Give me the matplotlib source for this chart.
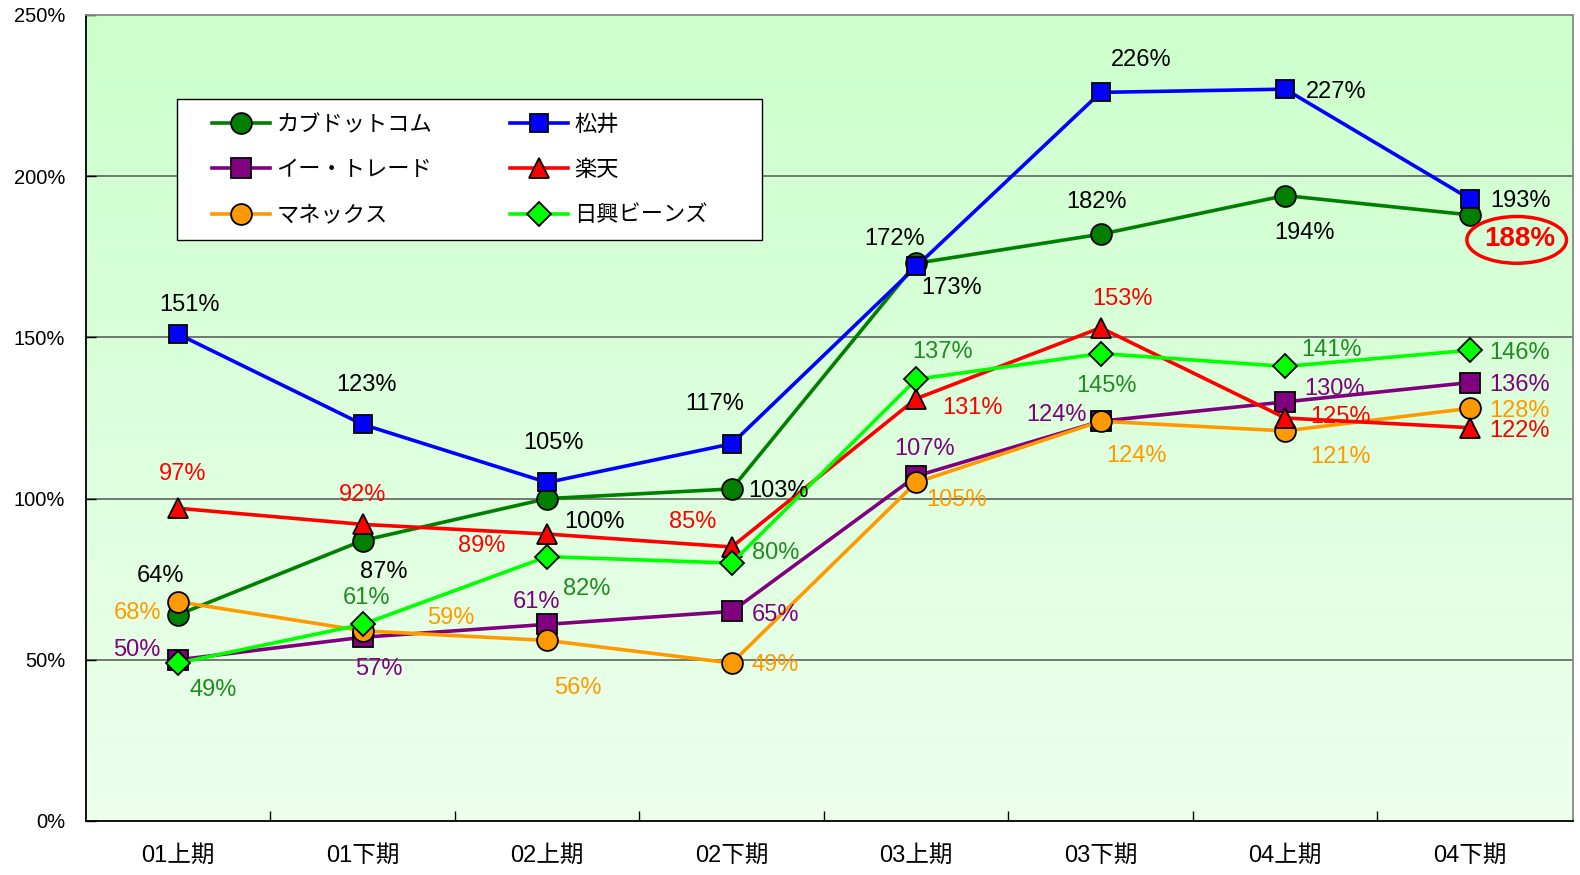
import numpy as np
import matplotlib
matplotlib.use("Agg")
import matplotlib.pyplot as plt
from matplotlib.patches import Ellipse, Rectangle
from matplotlib.transforms import ScaledTranslation

plt.rcParams['font.family'] = ['Liberation Sans', 'Noto Sans CJK JP', 'DejaVu Sans']

# periods
periods = ['01上期', '01下期', '02上期', '02下期', '03上期', '03下期', '04上期', '04下期']

# values in %
kabu = [64, 87, 100, 103, 173, 182, 194, 188]
etrade = [50, 57, 61, 65, 107, 124, 130, 136]
monex = [68, 59, 56, 49, 105, 124, 121, 128]
matsui = [151, 123, 105, 117, 172, 226, 227, 193]
rakuten = [97, 92, 89, 85, 131, 153, 125, 122]
nikko = [49, 61, 82, 80, 137, 145, 141, 146]

names = ['カブドットコム', 'イー・トレード', 'マネックス', '松井', '楽天', '日興ビーンズ']
series = [kabu, etrade, monex, matsui, rakuten, nikko]

# styles: line colour, marker, marker size, label colour
styles = [
    ('#007F00', 'o', 15, 'black'),
    ('#800080', 's', 14, '#800080'),
    ('#FF9900', 'o', 15, '#FF9900'),
    ('#0000FF', 's', 13, 'black'),
    ('#FF0000', '^', 15, '#FF0000'),
    ('#00FF00', 'D', 12, '#1E8C1E'),
]

# label offsets in pixels (dx, dy; dy positive = down)
offsets = [
    [(-18, -39), (21, 31), (47, 23), (47, 2), (35, 25), (-4, -32), (19, 37), None],
    [(-41, -10), (16, 32), (-11, -22), (44, 4), (8, -27), (-44, -6), (49, -13), (50, 2)],
    [(-41, 11), (88, -13), (31, 48), (43, 2), (40, 18), (36, 35), (55, 26), (50, 3)],
    [(11, -29), (4, -39), (6, -39), (-17, -40), (-22, -27), (40, -32), (51, 3), (51, 2)],
    [(4, -34), (0, -29), (-66, 12), (-39, -25), (56, 9), (22, -29), (55, -1), (50, 3)],
    [(35, 27), (4, -26), (39, 32), (44, -10), (26, -27), (6, 32), (46, -16), (50, 3)],
]

fig = plt.figure(figsize=(15.8, 8.75), dpi=100)
ax = fig.add_axes([86 / 1580, 1 - 821 / 875, 1487 / 1580, 806 / 875])

x = np.arange(len(periods))
ax.set_xlim(-0.5, 7.56)
ax.set_ylim(0, 250)

# gradient background
grad = np.linspace(0, 1, 256).reshape(-1, 1)
top = np.array([204, 255, 204]) / 255
bot = np.array([236, 255, 236]) / 255
img = top * (1 - grad[..., None]) + bot * grad[..., None]
img = np.repeat(img, 2, axis=1)
ax.imshow(img, extent=[-0.5, 7.56, 0, 250], aspect='auto', zorder=0, origin='upper')

for yv in [50, 100, 150, 200]:
    ax.axhline(yv, color='#555555', lw=1.1, zorder=1)

for i, (vals, name, st) in enumerate(zip(series, names, styles)):
    col, mk, ms, lcol = st
    ax.plot(x, vals, color=col, lw=2.6, marker=mk, markersize=ms,
            markerfacecolor=col, markeredgecolor='black', markeredgewidth=1.3,
            label=name, zorder=3 + i)
    for j, v in enumerate(vals):
        off = offsets[i][j]
        if off is None:
            continue
        ax.annotate(f'{v}%', (x[j], v), xytext=(off[0], -off[1]), textcoords='offset pixels',
                    ha='center', va='center', fontsize=17, color=lcol, zorder=20)

# highlighted last value
ax.annotate(f'{kabu[-1]}%', (x[-1], kabu[-1]), xytext=(50, -24), textcoords='offset pixels',
            ha='center', va='center', fontsize=20, fontweight='bold', color='#FF0000', zorder=20)
ell = Ellipse((x[-1], kabu[-1]), 0.54, 14.5, fill=False, edgecolor='#FF0000', lw=2.5,
              transform=ax.transData + ScaledTranslation(0.47, -0.25, fig.dpi_scale_trans),
              zorder=20, clip_on=False)
ax.add_patch(ell)

ax.set_yticks([0, 50, 100, 150, 200, 250])
ax.set_yticklabels([f'{t}%' for t in [0, 50, 100, 150, 200, 250]], fontsize=14.5)
ax.tick_params(axis='y', direction='in', length=7, width=1, pad=15)
ax.set_xticks(x[:-1] + 0.5)
ax.set_xticklabels([])
ax.set_xticks(x, minor=True)
ax.set_xticklabels(periods, minor=True, fontsize=17)
ax.tick_params(axis='x', which='major', direction='in', length=7, width=1)
ax.tick_params(axis='x', which='minor', length=0, pad=17)

for s in ['left', 'bottom']:
    ax.spines[s].set_color('black')
    ax.spines[s].set_linewidth(1.3)
for s in ['top', 'right']:
    ax.spines[s].set_color('#888888')
    ax.spines[s].set_linewidth(1.3)

# legend box drawn separately so the padding can differ left/right and top/bottom
box = Rectangle((177 / 1580, 1 - 240 / 875), 585 / 1580, 141 / 875, transform=fig.transFigure,
                facecolor='white', edgecolor='black', lw=1.0, zorder=29, clip_on=False)
ax.add_patch(box)

leg = ax.legend(ncol=2, loc='upper left', bbox_to_anchor=(212 / 1580, 1 - 113 / 875),
                bbox_transform=fig.transFigure,
                prop={'family': ['Noto Sans CJK JP'], 'size': 16},
                frameon=False, handlelength=2.6, columnspacing=3.5, labelspacing=1.0,
                borderpad=0, borderaxespad=0, handletextpad=0.3)
leg.set_zorder(30)

fig.savefig('out.png', dpi=100)
